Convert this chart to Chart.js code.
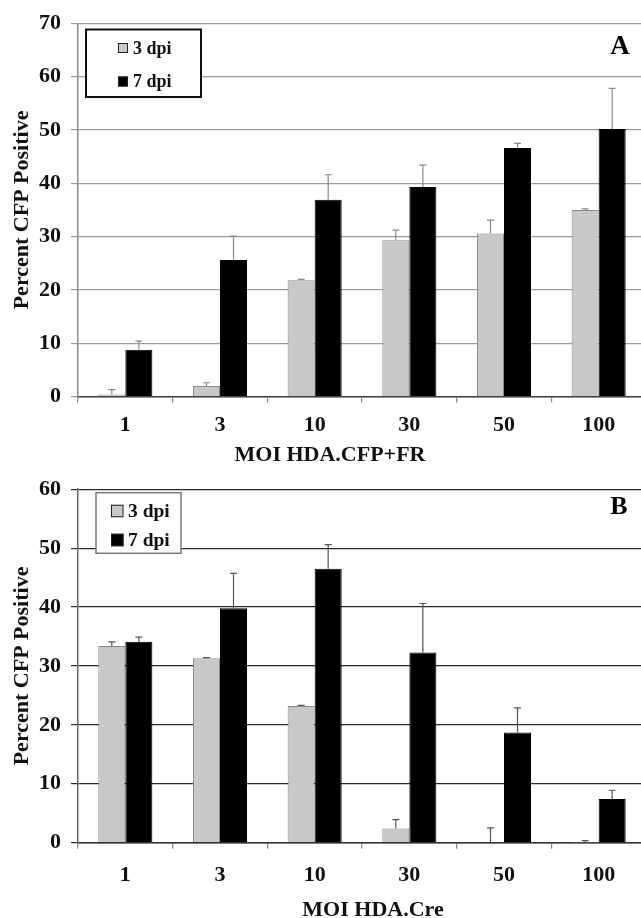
<!DOCTYPE html>
<html>
<head>
<meta charset="utf-8">
<script src="https://cdn.jsdelivr.net/npm/chart.js@4.4.1/dist/chart.umd.min.js"></script>
<style>
html, body { margin: 0; padding: 0; background: #fff; overflow: hidden; }
#wrapA { position: absolute; left: 0; top: 0; width: 646px; height: 466px; }
#wrapB { position: absolute; left: 0; top: 466px; width: 646px; height: 452px; }
</style>
</head>
<body>
<div id="wrapA"><canvas id="chartA" width="646" height="466"></canvas></div>
<div id="wrapB"><canvas id="chartB" width="646" height="452"></canvas></div>
<script>
// MOI categories (same for both panels)
const moiLabels = ['1', '3', '10', '30', '50', '100'];
const seriesNames = ['3 dpi', '7 dpi'];

// panel A: HDA.CFP+FR
const cfpFrDay3 = [0.4, 2.0, 21.8, 29.3, 30.6, 35.0];
const cfpFrDay3Err = [0.9, 0.6, 0.2, 1.9, 2.5, 0.2];
const cfpFrDay7 = [8.8, 25.6, 36.9, 39.3, 46.6, 50.2];
const cfpFrDay7Err = [1.6, 4.5, 4.7, 4.1, 0.9, 7.6];

// panel B: HDA.Cre
const creDay3 = [33.4, 31.3, 23.2, 2.4, 0, 0.05];
const creDay3Err = [0.7, 0.1, 0.1, 1.5, 2.5, 0.3];
const creDay7 = [34.1, 39.8, 46.5, 32.3, 18.7, 7.4];
const creDay7Err = [0.8, 5.9, 4.1, 8.3, 4.2, 1.5];

const yTicksA = { min: 0, max: 70, step: 10 };
const yTicksB = { min: 0, max: 60, step: 10 };

const serif = 'Liberation Serif, Times New Roman, serif';

// error bars, legend box, panel letter and x title
const panelDecor = {
  id: 'panelDecor',
  afterDatasetsDraw(chart, args, opts) {
    const ctx = chart.ctx;
    const y = chart.scales.y;
    ctx.save();
    ctx.strokeStyle = opts.errColor;
    ctx.lineWidth = 1.2;
    chart.data.datasets.forEach((ds, i) => {
      chart.getDatasetMeta(i).data.forEach((bar, j) => {
        const top = y.getPixelForValue(ds.data[j] + ds.errors[j]);
        ctx.beginPath();
        ctx.moveTo(bar.x, bar.y);
        ctx.lineTo(bar.x, top);
        ctx.moveTo(bar.x - 3.5, top);
        ctx.lineTo(bar.x + 3.5, top);
        ctx.stroke();
      });
    });
    ctx.restore();
  },
  afterDraw(chart, args, opts) {
    const ctx = chart.ctx;
    const lg = opts.legend;
    ctx.save();
    // legend
    ctx.fillStyle = '#fff';
    ctx.fillRect(lg.x, lg.y, lg.w, lg.h);
    ctx.strokeStyle = lg.border;
    ctx.lineWidth = lg.borderWidth;
    ctx.strokeRect(lg.x, lg.y, lg.w, lg.h);
    ctx.font = 'bold ' + lg.fontSize + 'px ' + serif;
    ctx.textBaseline = 'middle';
    ctx.textAlign = 'left';
    chart.data.datasets.forEach((ds, i) => {
      const cy = lg.rows[i];
      const s = lg.swatch;
      ctx.fillStyle = ds.backgroundColor;
      ctx.fillRect(lg.swatchX, cy - s / 2, s, s);
      ctx.strokeStyle = '#222';
      ctx.lineWidth = 1;
      ctx.strokeRect(lg.swatchX + 0.5, cy - s / 2 + 0.5, s - 1, s - 1);
      ctx.fillStyle = '#111';
      ctx.fillText(ds.label, lg.textX, cy + 1);
    });
    // panel letter
    ctx.font = 'bold ' + opts.letterSize + 'px ' + serif;
    ctx.textAlign = 'center';
    ctx.fillStyle = '#000';
    ctx.fillText(opts.letter, opts.letterX, opts.letterY);
    // x axis title
    ctx.font = 'bold 22px ' + serif;
    ctx.fillStyle = '#111';
    ctx.fillText(opts.xTitle, opts.xTitleX, opts.xTitleY);
    ctx.restore();
  }
};

function makePanel(canvasId, day3, day3Err, day7, day7Err, yt, look) {
  return new Chart(document.getElementById(canvasId), {
    type: 'bar',
    data: {
      labels: moiLabels,
      datasets: [
        { label: seriesNames[0], data: day3, errors: day3Err,
          backgroundColor: '#c8c8c8', borderColor: '#8a8a8a', borderWidth: 1 },
        { label: seriesNames[1], data: day7, errors: day7Err,
          backgroundColor: '#000000', borderColor: '#000000', borderWidth: 1 }
      ]
    },
    options: {
      responsive: false,
      animation: false,
      categoryPercentage: 0.571,
      barPercentage: 1.0,
      layout: { padding: { left: 0, right: 0, top: look.top, bottom: 0 } },
      plugins: {
        legend: { display: false },
        tooltip: { enabled: false },
        panelDecor: look.decor
      },
      scales: {
        x: {
          grid: { offset: true, drawOnChartArea: false, drawTicks: true, tickLength: 6, color: '#888', lineWidth: 1.2 },
          border: { color: look.baseColor, width: 1.5 },
          ticks: { color: '#111', padding: look.xPad, font: { family: serif, size: 22, weight: 'bold' } },
          afterFit: (s) => { s.height = look.xHeight; }
        },
        y: {
          min: yt.min,
          max: yt.max,
          ticks: { stepSize: yt.step, color: '#111', padding: 10, font: { family: serif, size: 22, weight: 'bold' } },
          grid: { color: look.gridColor, lineWidth: look.gridWidth, tickLength: 7 },
          border: { color: look.axisColor, width: 1.5 },
          title: { display: true, text: 'Percent CFP Positive', color: '#111', padding: { top: 9, bottom: 0 },
                   font: { family: serif, size: 22, weight: 'bold' } },
          afterFit: (s) => { s.width = 78; }
        }
      }
    },
    plugins: [panelDecor]
  });
}

makePanel('chartA', cfpFrDay3, cfpFrDay3Err, cfpFrDay7, cfpFrDay7Err, yTicksA, {
  top: 23.3, xHeight: 69.4, xPad: 10,
  gridColor: '#9a9a9a', gridWidth: 1.2, axisColor: '#8a8a8a', baseColor: '#444',
  decor: {
    errColor: '#8a8a8a',
    legend: { x: 86, y: 29.5, w: 115, h: 67.5, border: '#111', borderWidth: 2,
              swatchX: 118, swatch: 10, textX: 133, fontSize: 18, rows: [48, 81.5] },
    letter: 'A', letterSize: 27, letterX: 620, letterY: 47,
    xTitle: 'MOI HDA.CFP+FR', xTitleX: 330, xTitleY: 455
  }
});

makePanel('chartB', creDay3, creDay3Err, creDay7, creDay7Err, yTicksB, {
  top: 15.7, xHeight: 75.3, xPad: 13,
  gridColor: '#2a2a2a', gridWidth: 1.2, axisColor: '#666', baseColor: '#333',
  decor: {
    errColor: '#555',
    legend: { x: 96, y: 26.7, w: 85, h: 60.6, border: '#777', borderWidth: 1.5,
              swatchX: 111, swatch: 12.5, textX: 128, fontSize: 19.5, rows: [45, 74] },
    letter: 'B', letterSize: 26, letterX: 619, letterY: 41,
    xTitle: 'MOI HDA.Cre', xTitleX: 373, xTitleY: 444
  }
});
</script>
</body>
</html>
